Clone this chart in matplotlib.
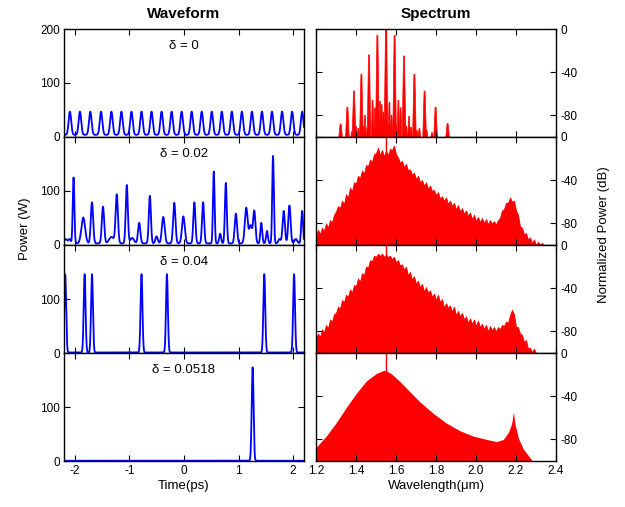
import numpy as np
import matplotlib.pyplot as plt

plt.rcParams['font.family'] = ['Liberation Sans', 'DejaVu Sans']
plt.rcParams['axes.unicode_minus'] = False

deltas = ['0', '0.02', '0.04', '0.0518']
pump_wl = 1.55

# ---- waveforms: pulse centre (ps), peak power (W), FWHM (ps) ----
w0_t = [-2.092, -1.908, -1.718, -1.521, -1.331, -1.147, -0.963, -0.779,
        -0.595, -0.411, -0.227, -0.043, 0.141, 0.325, 0.509, 0.693,
        0.877, 1.061, 1.245, 1.429, 1.613, 1.798, 1.982, 2.166]
w0_p = [43] * 24
w0_fw = [0.055] * 24
w0_base = 4

w1_t = [-2.17, -2.10, -2.025, -1.847, -1.687, -1.485, -1.33, -1.233, -1.049,
        -0.95, -0.822, -0.626, -0.503, -0.38, -0.178, -0.012, 0.19, 0.35,
        0.546, 0.663, 0.767, 0.951, 1.141, 1.22, 1.288, 1.417, 1.521, 1.632,
        1.75, 1.828, 1.933, 2.05, 2.166]
w1_p = [8, 8, 122, 48, 76, 68, 12, 90, 108, 10, 38, 88, 13, 49, 75, 50, 76,
        76, 133, 18, 112, 55, 66, 33, 60, 38, 23, 162, 8, 60, 70, 8, 60]
w1_fw = [0.06, 0.05, 0.035, 0.08, 0.05, 0.05, 0.1, 0.05, 0.045, 0.08, 0.05,
         0.045, 0.05, 0.06, 0.05, 0.06, 0.045, 0.045, 0.035, 0.04, 0.04,
         0.05, 0.06, 0.06, 0.05, 0.04, 0.04, 0.035, 0.05, 0.05, 0.05, 0.06,
         0.04]
w1_base = 3

w2_t = [-2.178, -1.822, -1.687, -0.779, -0.313, 1.472, 2.018, 2.26]
w2_p = [145] * 8
w2_fw = [0.04] * 8
w2_base = 1

w3_t = [1.258]
w3_p = [173]
w3_fw = [0.04]
w3_base = 0.5

# ---- spectra (dB) ----
# delta = 0 : discrete comb lines
comb_wl = [1.323, 1.357, 1.39, 1.427, 1.465, 1.507, 1.55, 1.593, 1.64,
           1.692, 1.743, 1.798, 1.858]
comb_db = [-88, -72.5, -57.5, -42, -24, -6, 0, -6, -25, -42, -57.5, -72.5, -87.5]
side_wl = [1.38, 1.40, 1.412, 1.435, 1.445, 1.457, 1.483, 1.495, 1.505,
           1.515, 1.52, 1.528, 1.537, 1.545, 1.56, 1.567, 1.578, 1.59, 1.60,
           1.612, 1.623, 1.652, 1.665, 1.675, 1.705, 1.717, 1.753, 1.78]
side_db = [-95, -90, -92, -90, -80, -91, -66, -73, -86, -88, -67, -70, -77,
           -86, -88, -68, -80, -88, -89, -66, -73, -90, -81, -91, -94, -92,
           -94, -96]

# delta = 0.02 and 0.04 : continuum sampled every 0.01 um from 1.20 to 2.40
grid_wl = np.round(np.arange(121) * 0.01 + 1.2, 2)
s1_db = [-92, -86, -90, -84, -87, -80, -84, -77, -79, -72,
         -69, -64, -66, -59, -62, -53, -56, -47, -50, -42,
         -43, -36, -38, -31, -34, -26, -27, -21, -23, -16,
         -15, -10, -17, -12, -18, -13, -17, -11, -12, -8,
         -16, -19, -24, -22, -28, -25, -31, -30, -35, -33,
         -39, -36, -42, -40, -45, -42, -48, -45, -50, -49,
         -54, -51, -57, -55, -59, -56, -62, -59, -64, -61,
         -67, -63, -69, -66, -71, -68, -73, -70, -76, -72,
         -78, -74, -79, -75, -80, -76, -81, -77, -80, -78,
         -81, -77, -75, -68, -67, -61, -61, -56, -60, -59,
         -68, -72, -83, -84, -90, -89, -95, -93, -98, -95,
         -100, -97, -100, -98, -100, -100, -100, -100, -100, -100, -100]
s2_db = [-87, -82, -85, -78, -81, -74, -77, -69, -71, -64,
         -63, -57, -59, -51, -53, -46, -48, -41, -44, -37,
         -38, -31, -34, -26, -28, -20, -21, -14, -15, -10,
         -11, -8, -10, -8, -11, -9, -11, -10, -13, -11,
         -16, -14, -19, -18, -23, -20, -28, -25, -32, -29,
         -36, -33, -39, -36, -43, -39, -44, -42, -48, -45,
         -51, -46, -53, -50, -58, -54, -58, -56, -62, -57,
         -65, -61, -66, -63, -69, -66, -72, -68, -73, -69,
         -75, -70, -76, -73, -78, -74, -80, -75, -79, -76,
         -80, -76, -78, -74, -75, -71, -72, -65, -60, -64,
         -76, -76, -82, -83, -90, -88, -96, -95, -99, -96,
         -100, -100, -100, -100, -100, -100, -100, -100, -100, -100, -100]

# delta = 0.0518 : smooth soliton spectrum
s3_wl = [1.2, 1.253, 1.303, 1.353, 1.403, 1.453, 1.503, 1.537, 1.55, 1.578,
         1.62, 1.67, 1.72, 1.787, 1.853, 1.92, 1.987, 2.053, 2.103, 2.137,
         2.162, 2.178, 2.187, 2.195, 2.212, 2.237, 2.262, 2.282]
s3_db = [-87.5, -76.5, -64, -50, -37, -25.6, -18.8, -16.2, -16.2, -19.4,
         -26.5, -36, -45.3, -56, -65, -72, -77, -80, -82, -80,
         -73.4, -65.6, -54.7, -65.6, -79, -89, -95, -100]

waves = [(w0_t, w0_p, w0_fw, w0_base), (w1_t, w1_p, w1_fw, w1_base),
         (w2_t, w2_p, w2_fw, w2_base), (w3_t, w3_p, w3_fw, w3_base)]

fig = plt.figure(figsize=(6.25, 5.07), dpi=100)

lx, rx, aw, ah = 0.1024, 0.5056, 0.384, 0.213
bottoms = [0.7298, 0.5168, 0.3037, 0.0907]
t = np.linspace(-2.2, 2.2, 4401)
floor = -100
red = '#ff0000'


def style(ax):
    ax.tick_params(direction='in', length=4, width=0.8, top=True, right=True,
                   left=True, bottom=True, labelsize=8.5, pad=3)
    for s in ax.spines.values():
        s.set_linewidth(1.0)


def spike(ax, c, h, wb, wt):
    # one spectral line drawn as a narrow tapered bar
    ax.fill([c - wb, c - wt, c + wt, c + wb], [floor, h, h, floor],
            color=red, lw=0.5, edgecolor=red)


for i in range(4):
    # waveform
    axl = fig.add_axes([lx, bottoms[i], aw, ah])
    t0, pk, fw, base = waves[i]
    trace = np.full_like(t, base, dtype=float)
    for c, p, f in zip(t0, pk, fw):
        trace += p * np.exp(-4 * np.log(2) * ((t - c) / f) ** 2)
    axl.plot(t, trace, color='#0000ff', lw=1.3)
    axl.set_xlim(-2.2, 2.2)
    axl.set_ylim(0, 200)
    axl.set_xticks([-2, -1, 0, 1, 2])
    axl.set_yticks([0, 100, 200] if i == 0 else [0, 100])
    axl.text(0.5, 0.84, '\u03b4 = ' + deltas[i], transform=axl.transAxes,
             ha='center', va='center', fontsize=9.5)
    style(axl)

    # spectrum
    axr = fig.add_axes([rx, bottoms[i], aw, ah])
    if i == 0:
        for c, h in zip(side_wl, side_db):
            spike(axr, c, h, 0.006, 0.002)
        for c, h in zip(comb_wl, comb_db):
            spike(axr, c, h, 0.009, 0.0025)
    elif i in (1, 2):
        sdb = s1_db if i == 1 else s2_db
        axr.fill_between(grid_wl, sdb, floor, color=red, lw=0.6,
                         edgecolor=red)
    else:
        axr.fill_between(s3_wl, s3_db, floor, color=red, lw=0)
    axr.axvline(pump_wl, color=red, lw=1.0)
    axr.set_xlim(1.2, 2.4)
    axr.set_ylim(-100, 0)
    axr.set_xticks([1.2, 1.4, 1.6, 1.8, 2.0, 2.2, 2.4])
    axr.set_yticks([-80, -40, 0])
    style(axr)
    axr.tick_params(labelleft=False, labelright=True)

    if i < 3:
        axl.tick_params(labelbottom=False)
        axr.tick_params(labelbottom=False)
    else:
        axl.set_xlabel('Time(ps)', fontsize=9.5, labelpad=2)
        axr.set_xlabel('Wavelength(\u03bcm)', fontsize=9.5, labelpad=2)
        axr.set_xticklabels(['1.2', '1.4', '1.6', '1.8', '2.0', '2.2', '2.4'])

    if i == 0:
        axl.set_title('Waveform', fontsize=11, fontweight='bold', pad=8)
        axr.set_title('Spectrum', fontsize=11, fontweight='bold', pad=8)

fig.text(0.04, 0.548, 'Power (W)', rotation=90, ha='center', va='center',
         fontsize=9.5)
fig.text(0.966, 0.538, 'Normalized Power (dB)', rotation=90, ha='center',
         va='center', fontsize=9.5)

fig.savefig('out.png', dpi=100)
